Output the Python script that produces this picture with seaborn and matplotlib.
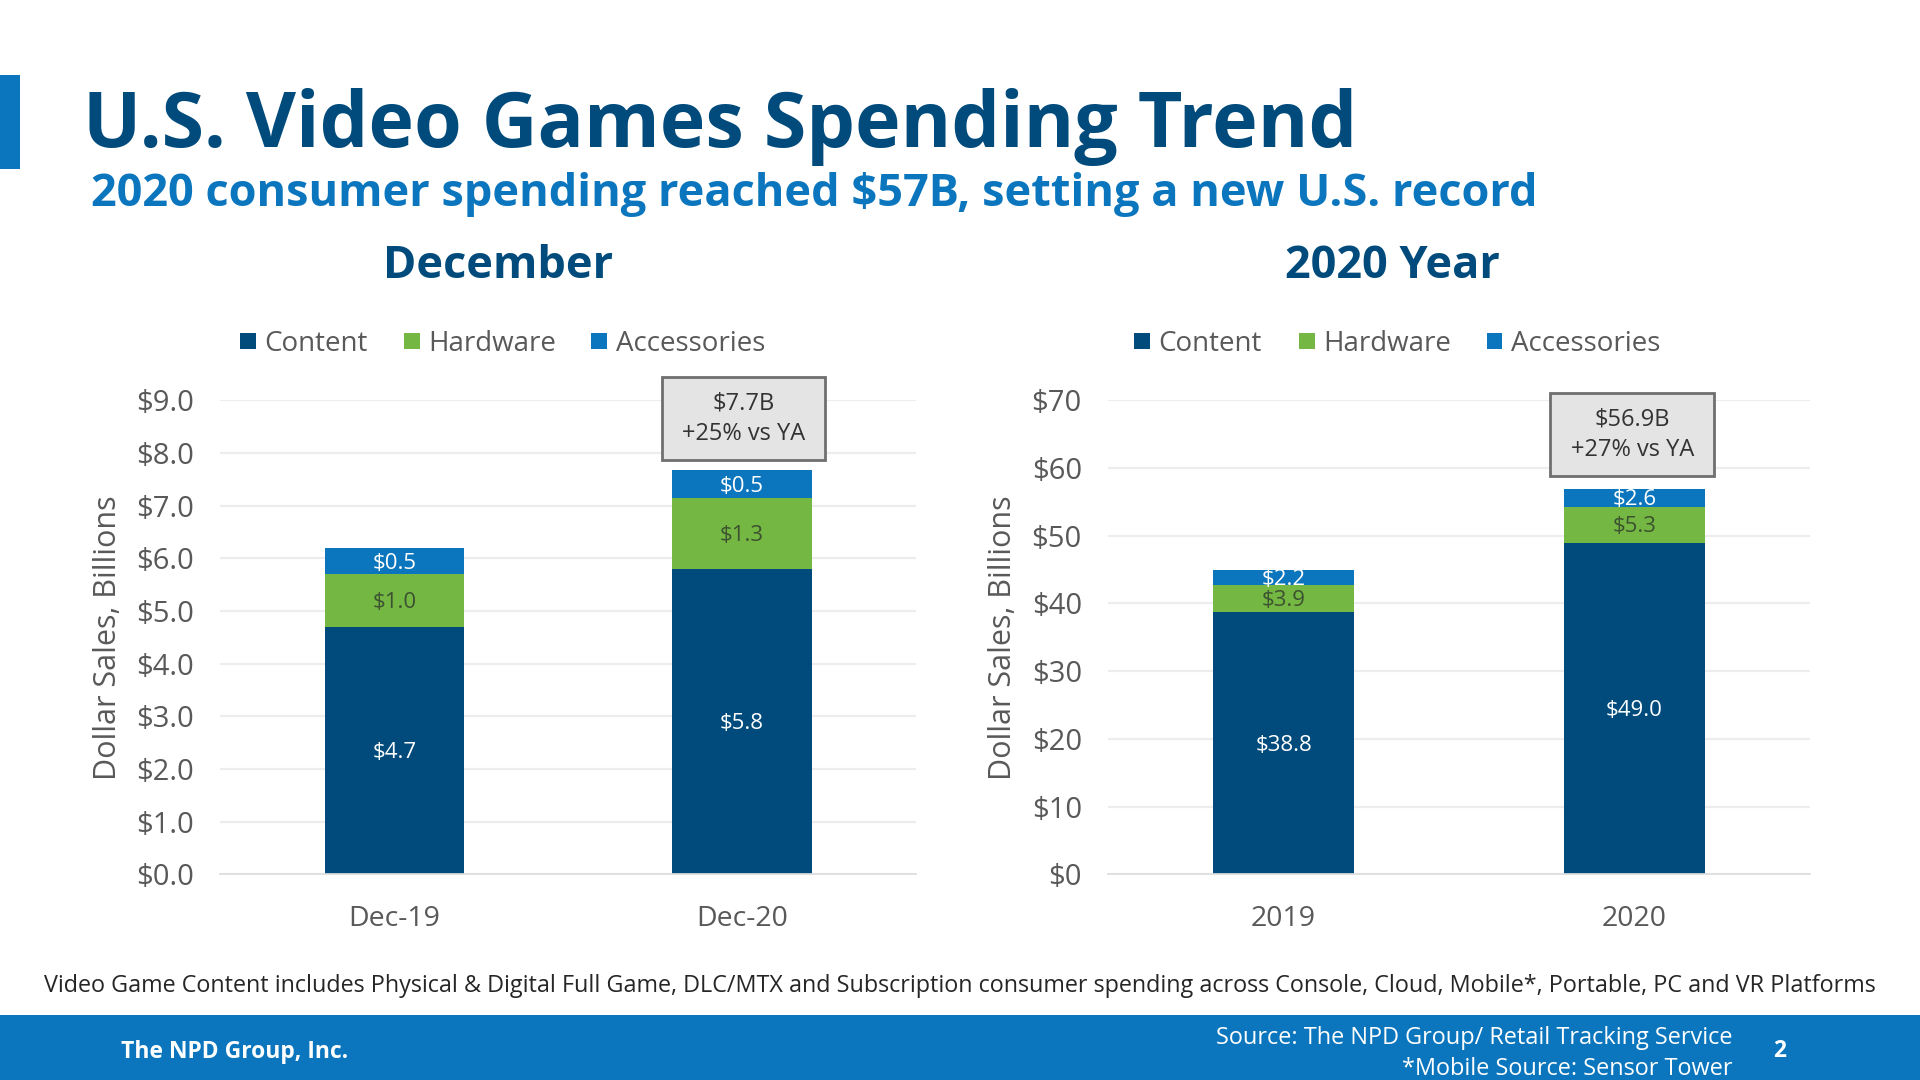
import matplotlib
matplotlib.use("Agg")
import matplotlib.pyplot as plt
from matplotlib.patches import Rectangle
import pandas as pd
import seaborn as sns

# -----------------------------------------
# Data
# -----------------------------------------
dec_periods = ["Dec-19", "Dec-20"]
dec_content = [4.7, 5.8]
dec_hardware = [1.0, 1.34]
dec_accessories = [0.5, 0.53]
dec_ticks = [0, 1, 2, 3, 4, 5, 6, 7, 8, 9]

year_periods = ["2019", "2020"]
year_content = [38.8, 49.0]
year_hardware = [3.9, 5.3]
year_accessories = [2.2, 2.6]
year_ticks = [0, 10, 20, 30, 40, 50, 60, 70]

series_names = ["Content", "Hardware", "Accessories"]

NAVY = "#004b7c"
GREEN = "#74b843"
BLUE = "#0b76bd"
GREY = "#595959"
colors = [NAVY, GREEN, BLUE]
label_colors = ["white", "#3d5230", "white"]

sns.set_theme(style="white")
plt.rcParams["font.family"] = ["Open Sans", "DejaVu Sans"]

W, H = 1568, 882
fig = plt.figure(figsize=(19.2, 10.8), dpi=100)


def fx(x):
    return x / W


def fy(y):
    return 1 - y / H


def stacked(rect, periods, parts, ticks, ymax, tick_fmt, label_x):
    ax = fig.add_axes(rect)
    bottom = [0, 0]
    for name, vals, col, lc in zip(series_names, parts, colors, label_colors):
        df = pd.DataFrame({"period": periods, "value": vals})
        sns.barplot(data=df, x="period", y="value", color=col, width=0.4, linewidth=0,
                    bottom=bottom, ax=ax, saturation=1, label=name, legend=False)
        for i, v in enumerate(vals):
            ax.annotate("$%.1f" % v, (i, bottom[i] + v / 2), xytext=(0, -1.5),
                        textcoords="offset points", ha="center", va="center",
                        color=lc, fontsize=16)
        bottom = [b + v for b, v in zip(bottom, vals)]
    ax.set_xlim(-0.5, 1.5)
    ax.set_ylim(0, ymax)
    ax.set_yticks(ticks)
    ax.set_yticklabels([tick_fmt % t for t in ticks], color=GREY, fontsize=21)
    ax.tick_params(axis="x", labelsize=20.5, labelcolor=GREY, length=0, pad=22)
    ax.tick_params(axis="y", length=0, pad=19)
    ax.set_xlabel("")
    ax.set_ylabel("Dollar Sales, Billions", color=GREY, fontsize=22, va="center")
    ax.yaxis.set_label_coords(label_x, 0.5)
    ax.grid(axis="y", color="#ededed", lw=1.6)
    ax.set_axisbelow(True)
    sns.despine(ax=ax, left=True)
    ax.spines["bottom"].set_color("#dddddd")
    return ax


ax1 = stacked([fx(180), fy(714), fx(568), fy(327) - fy(714)], dec_periods,
              [dec_content, dec_hardware, dec_accessories], dec_ticks, 9, "$%.1f", -0.162)
ax2 = stacked([fx(905), fy(714), fx(573), fy(327) - fy(714)], year_periods,
              [year_content, year_hardware, year_accessories], year_ticks, 70, "$%d", -0.150)


def callout(x0, x1, y0, y1, txt):
    fig.add_artist(Rectangle((fx(x0), fy(y1)), fx(x1 - x0), fy(y0) - fy(y1),
                             transform=fig.transFigure, fc="#e4e4e4", ec="#6f6f6f", lw=2, zorder=5))
    fig.text(fx((x0 + x1) / 2), fy((y0 + y1) / 2), txt, ha="center", va="center",
             fontsize=17, color="#333333", linespacing=1.4, zorder=6)


callout(541, 674, 308, 376, "$7.7B\n+25% vs YA")
callout(1266, 1400, 321, 389, "$56.9B\n+27% vs YA")


def legend(xs):
    for x, name, col in zip(xs, series_names, colors):
        fig.add_artist(Rectangle((fx(x), fy(285)), fx(13), fy(272) - fy(285),
                                 transform=fig.transFigure, fc=col, ec="none"))
        fig.text(fx(x + 20), fy(281), name, va="center", fontsize=20, color=GREY)


legend([196, 330, 483])
legend([926, 1061, 1214])

# Header
fig.add_artist(Rectangle((0, fy(138)), fx(16), fy(61) - fy(138),
                         transform=fig.transFigure, fc=BLUE, ec="none"))
fig.text(fx(68), fy(104), "U.S. Video Games Spending Trend", va="center",
         fontsize=55.5, fontweight="bold", color=NAVY)
fig.text(fx(74), fy(159), "2020 consumer spending reached $57B, setting a new U.S. record",
         va="center", fontsize=32.5, fontweight="bold", color=BLUE)
fig.text(fx(407), fy(218), "December", ha="center", va="center", fontsize=32.5,
         fontweight="bold", color=NAVY)
fig.text(fx(1137), fy(218), "2020 Year", ha="center", va="center", fontsize=32.5,
         fontweight="bold", color=NAVY)

# Footer
fig.text(fx(784), fy(805),
         "Video Game Content includes Physical & Digital Full Game, DLC/MTX and Subscription "
         "consumer spending across Console, Cloud, Mobile*, Portable, PC and VR Platforms",
         ha="center", va="center", fontsize=16.8, color="#262626")
fig.add_artist(Rectangle((0, 0), 1, fy(829), transform=fig.transFigure, fc=BLUE, ec="none"))
fig.text(fx(99), fy(859), "The NPD Group, Inc.", va="center", fontsize=16.5,
         fontweight="bold", color="white")
fig.text(fx(1415), fy(848), "Source: The NPD Group/ Retail Tracking Service", ha="right",
         va="center", fontsize=16.9, color="white")
fig.text(fx(1415), fy(873), "*Mobile Source: Sensor Tower", ha="right", va="center",
         fontsize=16.9, color="white")
fig.text(fx(1453), fy(858), "2", ha="center", va="center", fontsize=16.5,
         fontweight="bold", color="white")

fig.savefig("out.png", dpi=100, facecolor="white")
